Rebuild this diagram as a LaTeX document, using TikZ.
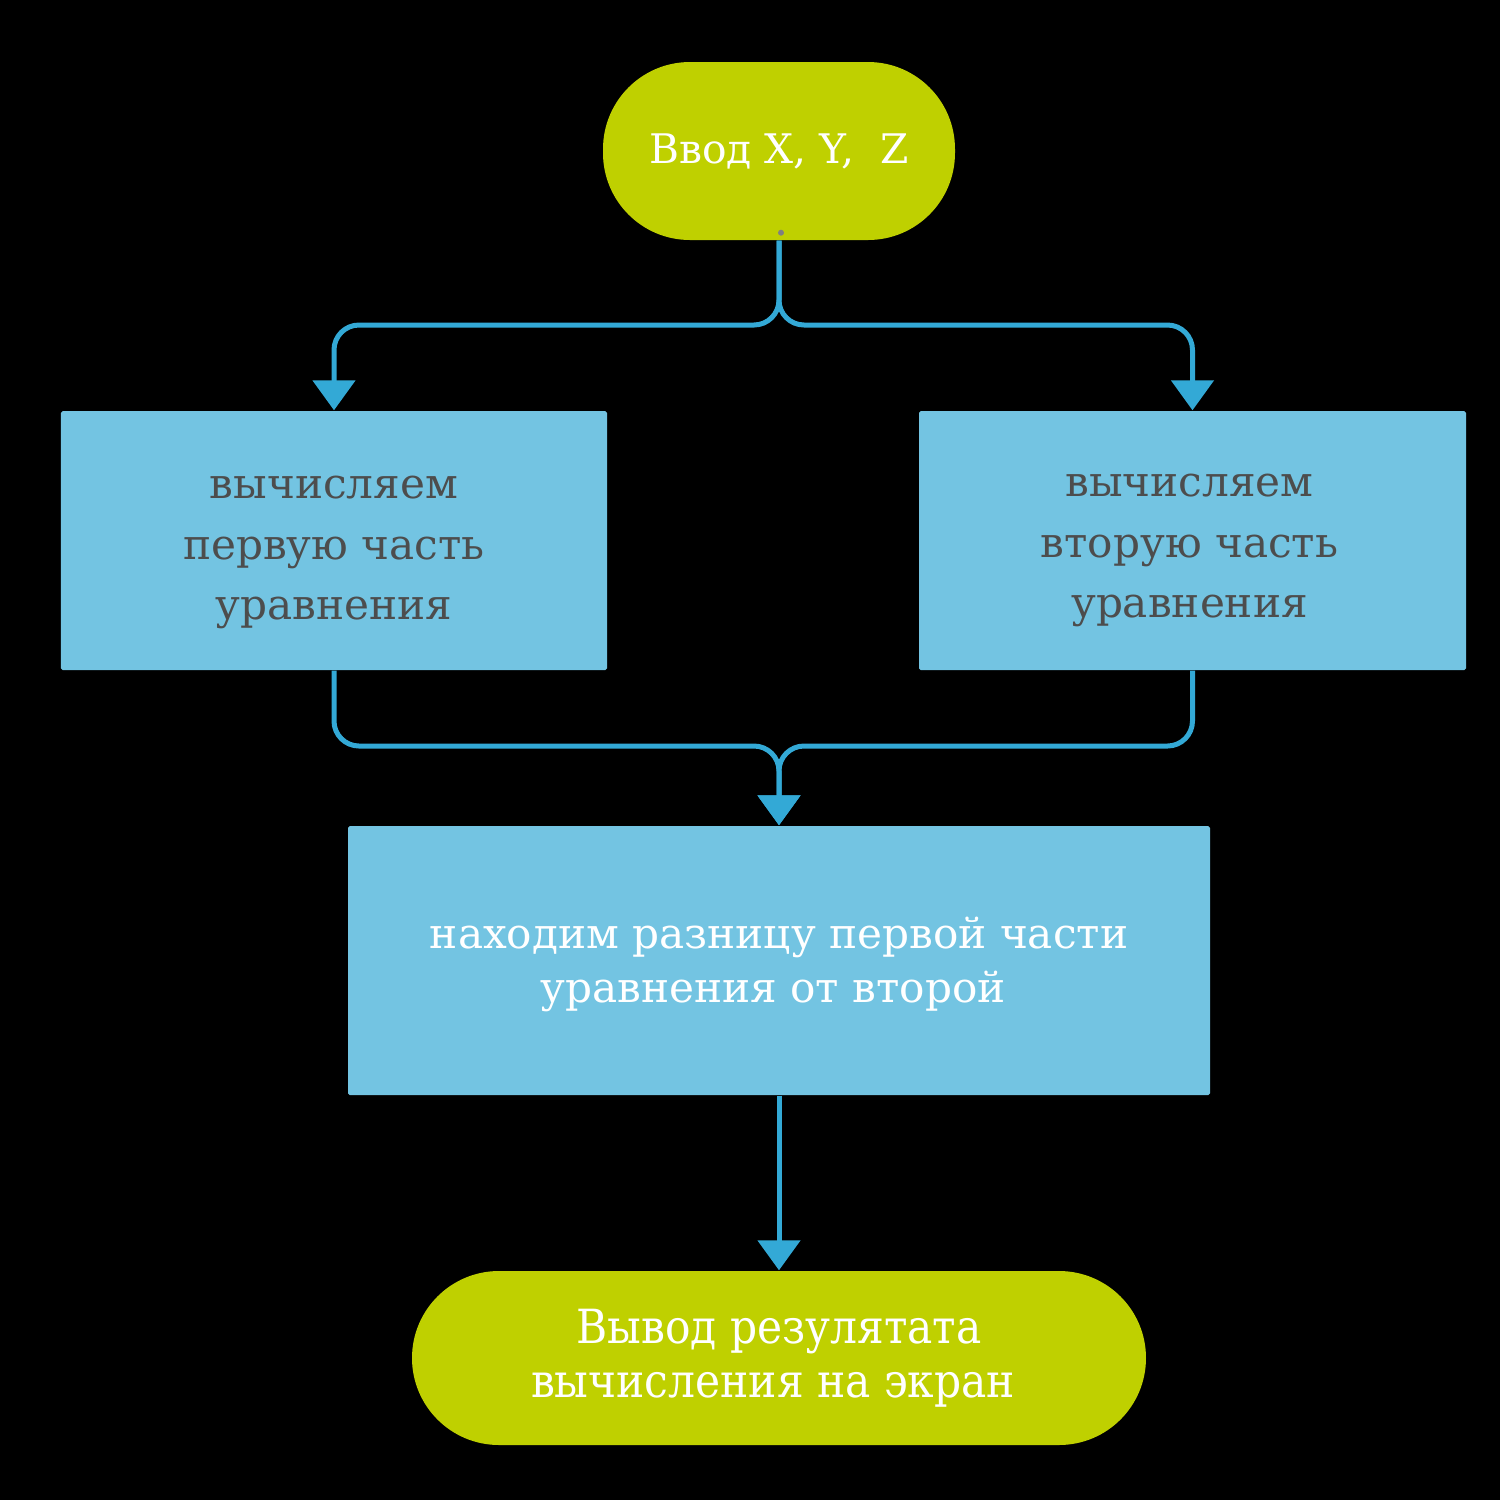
\documentclass[tikz,border=0pt]{standalone}
\usepackage{fontspec}
\setmainfont{DejaVu Serif}
\newfontfamily\condfont{DejaVu Serif Condensed}
\usepackage{tikz}
\usetikzlibrary{arrows.meta}
\usepackage{xcolor}
\definecolor{termgreen}{HTML}{BFD000}
\definecolor{boxblue}{HTML}{73C4E2}
\definecolor{lineblue}{HTML}{33A9D6}
\definecolor{textgray}{HTML}{4D4D4D}

\begin{document}
\begin{tikzpicture}[
  term/.style={fill=termgreen, rounded corners=0.87cm, inner sep=0pt, text=white,
    align=center, font=\fontsize{11.6}{15.5}\selectfont},
  calcbox/.style={fill=boxblue, rounded corners=0.5pt, inner sep=0pt},
  boxtext/.style={inner sep=0pt, align=center, font=\fontsize{12}{17.2}\selectfont},
  flow/.style={draw=lineblue, line width=0.05cm, rounded corners=0.25cm,
    -{Triangle[width=0.42cm, length=0.3cm]}}
]
  \useasboundingbox[fill=black] (0,0) rectangle (15,-15);

  \node[term, minimum width=3.52cm, minimum height=1.78cm] (start) at (7.79,-1.51) {Ввод X, Y,~ Z};
  \fill[gray] ([xshift=0.02cm, yshift=0.08cm]start.south) circle (0.03);

  \node[calcbox, minimum width=5.46cm, minimum height=2.59cm] (part1) at (3.34,-5.405) {};
  \node[boxtext, text=textgray] (part1text) at ([yshift=-0.12cm]part1.center)
    {вычисляем\\ первую часть\\ уравнения};
  \node[calcbox, minimum width=5.47cm, minimum height=2.59cm] (part2) at (11.925,-5.405) {};
  \node[boxtext, text=textgray] (part2text) at ([xshift=-0.03cm, yshift=-0.1cm]part2.center)
    {вычисляем\\ вторую часть\\ уравнения};

  \node[calcbox, minimum width=8.62cm, minimum height=2.69cm] (diff) at (7.79,-9.605) {};
  \node[boxtext, text=white, font=\fontsize{12}{15.5}\selectfont] (difftext) at ([yshift=-0.04cm]diff.center)
    {находим разницу первой части\\ уравнения от второй\kern0.12cm};

  \node[term, minimum width=7.34cm, minimum height=1.74cm, font=\condfont\fontsize{13.4}{15.5}\selectfont] (finish) at (7.79,-13.58)
    {Вывод резулятата\\ вычисления на экран\kern0.12cm};

  \coordinate (split) at (7.79,-3.25);
  \coordinate (merge) at (7.79,-7.46);

  \draw[flow] (start.south) -- (split) -| (part1.north);
  \draw[flow] (start.south) -- (split) -| (part2.north);
  \draw[flow] (part1.south) |- (merge) -- (diff.north);
  \draw[flow] (part2.south) |- (merge) -- (diff.north);
  \draw[flow] (diff.south) -- (finish.north);
\end{tikzpicture}
\end{document}
